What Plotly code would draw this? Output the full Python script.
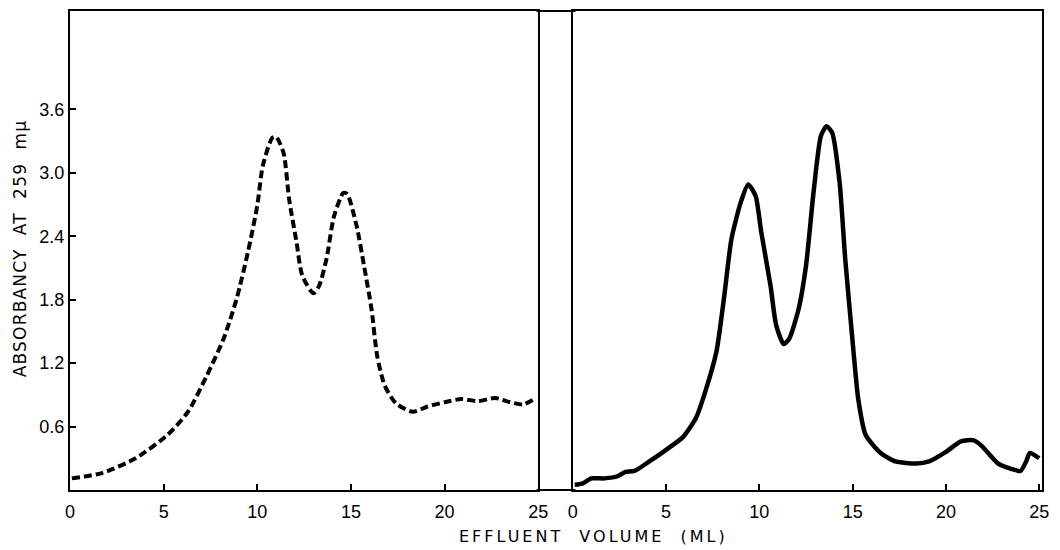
import plotly.graph_objects as go

# Left panel (dashed curve)
left_x = [0.1, 1.7, 3.5, 5.2, 6.3, 7.3, 8.2, 8.9, 9.5, 10.0, 10.3, 10.8, 11.0, 11.4, 11.7,
          12.1, 12.4, 13.0, 13.3, 13.7, 14.1, 14.6, 14.8, 15.3, 15.7, 16.1, 16.4, 16.8,
          17.4, 18.3, 19.1, 20.0, 20.9, 21.8, 22.7, 23.5, 24.2, 24.8]
left_y = [0.11, 0.16, 0.30, 0.52, 0.74, 1.08, 1.43, 1.81, 2.25, 2.69, 3.07, 3.33, 3.34, 3.19, 2.75,
          2.34, 2.03, 1.86, 1.93, 2.19, 2.59, 2.81, 2.80, 2.50, 2.12, 1.71, 1.27, 0.99,
          0.82, 0.74, 0.79, 0.83, 0.86, 0.84, 0.87, 0.83, 0.81, 0.86]

# Right panel (solid curve)
right_x = [0.1, 0.5, 1.0, 1.7, 2.4, 2.8, 3.3, 4.1, 5.0, 5.9, 6.6, 7.1, 7.7, 8.1, 8.5, 9.0, 9.4,
           9.8, 10.1, 10.6, 10.9, 11.3, 11.6, 12.1, 12.5, 12.9, 13.3, 13.6, 13.9, 14.3, 14.6,
           15.0, 15.3, 15.7, 16.5, 17.3, 18.4, 19.1, 20.0, 20.8, 21.5, 21.9, 22.8, 23.5, 24.0,
           24.3, 24.5, 25.0]
right_y = [0.05, 0.06, 0.11, 0.11, 0.13, 0.17, 0.18, 0.27, 0.38, 0.50, 0.68, 0.93, 1.31, 1.81, 2.37, 2.72, 2.89,
           2.78, 2.44, 1.93, 1.56, 1.38, 1.43, 1.71, 2.12, 2.81, 3.35, 3.44, 3.38, 2.91, 2.19,
           1.40, 0.86, 0.52, 0.35, 0.27, 0.25, 0.27, 0.36, 0.46, 0.47, 0.42, 0.25, 0.20, 0.18,
           0.27, 0.35, 0.30]

x_ticks = [0, 5, 10, 15, 20, 25]
y_ticks = [0.6, 1.2, 1.8, 2.4, 3.0, 3.6]
y_title = "ABSORBANCY  AT  259  m\u03bc"
x_title = "EFFLUENT  VOLUME  (ML)"

TICK_FONT = "Liberation Sans"
TITLE_FONT = "DejaVu Sans"

fig = go.Figure()
fig.add_trace(go.Scatter(x=left_x, y=left_y, mode="lines", xaxis="x", yaxis="y",
                         line=dict(color="black", width=4, dash="8px,4px", shape="spline", smoothing=0.7),
                         showlegend=False))
fig.add_trace(go.Scatter(x=right_x, y=right_y, mode="lines", xaxis="x2", yaxis="y2",
                         line=dict(color="black", width=4.5, shape="spline", smoothing=0.6),
                         showlegend=False))

axis_common = dict(showgrid=False, zeroline=False, showline=True, linecolor="black", linewidth=2,
                   mirror=True, ticklen=6, tickwidth=1.5, tickcolor="black",
                   tickfont=dict(family=TICK_FONT, size=18, color="black"))

fig.update_layout(
    width=1060, height=550,
    margin=dict(l=70, r=8, t=11, b=60),
    paper_bgcolor="white", plot_bgcolor="white",
    xaxis=dict(domain=[0, 0.4817], range=[0, 25], tickvals=x_ticks, ticks="inside",
               ticklabelstandoff=4, **axis_common),
    yaxis=dict(range=[0, 4.53], tickvals=y_ticks, tickformat=".1f", ticks="inside", **axis_common),
    xaxis2=dict(domain=[0.5173, 1], range=[0, 25.15], tickvals=x_ticks, anchor="y2", ticks="inside",
                ticklabelstandoff=4, **axis_common),
    yaxis2=dict(range=[0, 4.53], anchor="x2", showticklabels=False, ticks="", **axis_common),
)

# Lines across the gap between the two panels (top and bottom of the frame)
fig.add_shape(type="line", xref="paper", yref="paper", x0=0.48, x1=0.52, y0=1, y1=1,
              line=dict(color="black", width=2))
fig.add_shape(type="line", xref="paper", yref="paper", x0=0.48, x1=0.52, y0=0, y1=0,
              line=dict(color="black", width=2))

fig.add_annotation(text=x_title, xref="paper", yref="paper", x=0.539, y=-0.098,
                   showarrow=False, yanchor="middle", xanchor="center",
                   font=dict(family=TITLE_FONT, size=16, color="black"))
fig.add_annotation(text=y_title, xref="paper", yref="paper", x=-0.051, y=0.505,
                   showarrow=False, textangle=-90, xanchor="center", yanchor="middle",
                   font=dict(family=TITLE_FONT, size=17, color="black"))

post = """
document.body.style.margin = '0';
document.body.style.padding = '0';
document.querySelectorAll('text.annotation-text').forEach(function (el) {
  if (el.textContent.indexOf('EFFLUENT') >= 0) { el.setAttribute('letter-spacing', '3'); }
  else { el.setAttribute('letter-spacing', '1.2'); }
});
"""

fig.write_html("out.html", post_script=post, config={"displayModeBar": False})
